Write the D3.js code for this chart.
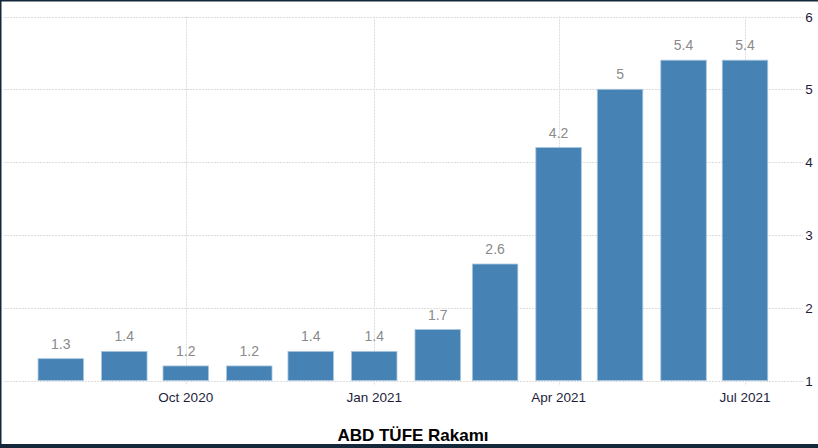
<!DOCTYPE html>
<html><head><meta charset="utf-8">
<script src="https://cdn.jsdelivr.net/npm/d3@7"></script>
<style>html,body{margin:0;padding:0;background:#fff;}svg{display:block;}</style>
</head><body>
<svg id="c" width="818" height="448"></svg>
<script>
const months = ["2020-08-01","2020-09-01","2020-10-01","2020-11-01","2020-12-01","2021-01-01","2021-02-01","2021-03-01","2021-04-01","2021-05-01","2021-06-01","2021-07-01"];
const values = [1.3, 1.4, 1.2, 1.2, 1.4, 1.4, 1.7, 2.6, 4.2, 5, 5.4, 5.4];
const xTickDates = ["2020-10-01","2021-01-01","2021-04-01","2021-07-01"];
const xTickLabels = ["Oct 2020","Jan 2021","Apr 2021","Jul 2021"];
const yTicks = [1, 2, 3, 4, 5, 6];
const title = "ABD TÜFE Rakamı";

const svg = d3.select("#c");
const parse = d3.utcParse("%Y-%m-%d");
const data = months.map((m, i) => ({ d: parse(m), v: values[i] }));

const x = d3.scaleUtc().domain([parse(months[0]), parse(months[months.length - 1])]).range([60.8, 745]);
const y = d3.scaleLinear().domain([1, 6]).range([380.5, 16.5]);
const left = 4, right = 803, barW = 45.5;

// horizontal grid
svg.append("g").selectAll("line").data(yTicks).join("line")
  .attr("x1", left).attr("x2", right)
  .attr("y1", d => Math.round(y(d)) + 0.5).attr("y2", d => Math.round(y(d)) + 0.5)
  .attr("stroke", "#dddddd").attr("stroke-dasharray", "2,1");

// vertical grid at ticks
svg.append("g").selectAll("line").data(xTickDates).join("line")
  .attr("x1", d => Math.round(x(parse(d))) + 0.5).attr("x2", d => Math.round(x(parse(d))) + 0.5)
  .attr("y1", y(6)).attr("y2", y(1) + 4)
  .attr("stroke", "#dddddd").attr("stroke-dasharray", "2,1");

// bars
svg.append("g").selectAll("rect").data(data).join("rect")
  .attr("x", d => x(d.d) - barW / 2)
  .attr("width", barW)
  .attr("y", d => y(d.v))
  .attr("height", d => y(1) - y(d.v))
  .attr("fill", "#4682b4")
  .attr("stroke", "#a9c6e0").attr("stroke-width", 0.8);

// value labels
svg.append("g").selectAll("text").data(data).join("text")
  .attr("x", d => x(d.d))
  .attr("y", d => y(d.v) - 10)
  .attr("text-anchor", "middle")
  .attr("font-family", "Liberation Sans, Arial, sans-serif")
  .attr("font-size", 14)
  .attr("fill", "#8a8a8a")
  .text(d => String(d.v));

// x tick labels
svg.append("g").selectAll("text").data(xTickDates).join("text")
  .attr("x", d => x(parse(d)))
  .attr("y", 401.5)
  .attr("text-anchor", "middle")
  .attr("font-family", "Liberation Sans, Arial, sans-serif")
  .attr("font-size", 13.5)
  .attr("fill", "#1e1e3c")
  .text((d, i) => xTickLabels[i]);

// y tick labels (right)
svg.append("g").selectAll("text").data(yTicks).join("text")
  .attr("x", 809)
  .attr("y", d => y(d) + 5)
  .attr("text-anchor", "middle")
  .attr("font-family", "Liberation Sans, Arial, sans-serif")
  .attr("font-size", 13.5)
  .attr("fill", "#1e1e3c")
  .text(d => d);

// title
svg.append("text")
  .attr("x", 413).attr("y", 441)
  .attr("text-anchor", "middle")
  .attr("font-family", "Liberation Sans, Arial, sans-serif")
  .attr("font-weight", "bold")
  .attr("font-size", 17)
  .attr("fill", "#000")
  .text(title);

// dark frame edges
svg.append("rect").attr("x", 0).attr("y", 0).attr("width", 818).attr("height", 1.5).attr("fill", "#15283a");
svg.append("rect").attr("x", 0).attr("y", 0).attr("width", 1.5).attr("height", 448).attr("fill", "#15283a");
svg.append("rect").attr("x", 0).attr("y", 444).attr("width", 818).attr("height", 4).attr("fill", "#15283a");
</script>
</body></html>
